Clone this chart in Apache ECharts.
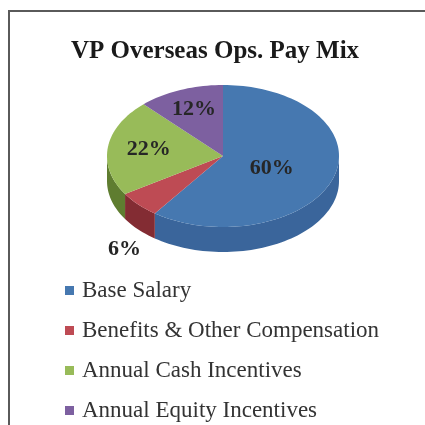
<!DOCTYPE html>
<html>
<head>
<meta charset="utf-8">
<style>
  html, body { margin: 0; padding: 0; background: #fff; }
  #chart { width: 425px; height: 425px; }
</style>
<script src="https://cdn.jsdelivr.net/npm/echarts@6/dist/echarts.min.js"></script>
</head>
<body>
<div id="chart"></div>
<script>
const categories = ['Base Salary', 'Benefits & Other Compensation', 'Annual Cash Incentives', 'Annual Equity Incentives'];
const values = [60, 6, 22, 12];
const topColors = ['#4678b0', '#be4b54', '#98bb59', '#7d60a0'];
const sideColors = ['#3a659b', '#832c33', '#5f7d30', '#5a4474'];
// label position as a fraction of the ellipse radii from the centre
const labelAnchors = [[0.42, 0.17], [-0.85, 1.31], [-0.64, -0.09], [-0.25, -0.66]];

// the pie is tilted, so it is an ellipse with a wall below it
const cx = 223, cy = 156, rx = 116, ry = 71, depth = 25;
const total = values.reduce((a, b) => a + b, 0);

function point(deg, drop) {
  const t = deg * Math.PI / 180;
  return [cx + rx * Math.sin(t), cy - ry * Math.cos(t) + (drop || 0)];
}

function arc(from, to, drop) {
  const pts = [];
  const n = Math.max(2, Math.ceil((to - from) / 2));
  for (let i = 0; i <= n; i++) {
    pts.push(point(from + (to - from) * i / n, drop));
  }
  return pts;
}

function renderSlice(index) {
  const before = values.slice(0, index).reduce((a, b) => a + b, 0);
  const start = before / total * 360;
  const end = (before + values[index]) / total * 360;
  const children = [];

  // only the front half of the wall can be seen
  const wallFrom = Math.max(start, 90);
  const wallTo = Math.min(end, 270);
  if (wallFrom < wallTo) {
    const edge = arc(wallFrom, wallTo, 0);
    const lower = arc(wallFrom, wallTo, depth).reverse();
    children.push({
      type: 'polygon',
      shape: { points: edge.concat(lower) },
      style: { fill: sideColors[index] }
    });
  }

  children.push({
    type: 'polygon',
    shape: { points: [[cx, cy]].concat(arc(start, end, 0)) },
    style: { fill: topColors[index] }
  });

  children.push({
    type: 'text',
    z2: 10,
    style: {
      text: values[index] + '%',
      x: cx + labelAnchors[index][0] * rx,
      y: cy + labelAnchors[index][1] * ry,
      textAlign: 'center',
      textVerticalAlign: 'middle',
      font: 'bold 22px "Liberation Serif"',
      fill: '#262626'
    }
  });

  return { type: 'group', children: children };
}

const myChart = echarts.init(document.getElementById('chart'), null, { renderer: 'canvas' });

myChart.setOption({
  animation: false,
  title: {
    text: 'VP Overseas Ops. Pay Mix',
    left: 210,
    top: 34,
    textAlign: 'center',
    textStyle: { fontFamily: 'Liberation Serif', fontWeight: 'bold', fontSize: 25, color: '#1a1a1a' }
  },
  legend: {
    orient: 'vertical',
    left: 65,
    top: 279,
    padding: 0,
    itemWidth: 9,
    itemHeight: 9,
    itemGap: 17,
    icon: 'rect',
    selectedMode: false,
    textStyle: { fontFamily: 'Liberation Serif', fontSize: 23, color: '#333', padding: [0, 0, 0, 3] },
    data: categories
  },
  graphic: [{
    type: 'polyline',
    silent: true,
    shape: { points: [[9, 425], [9, 11], [425, 11]] },
    style: { stroke: '#5a5a5a', lineWidth: 2, fill: null }
  }],
  series: categories.map((name, i) => ({
    type: 'custom',
    name: name,
    coordinateSystem: 'none',
    silent: true,
    itemStyle: { color: topColors[i] },
    data: [values[i]],
    renderItem: () => renderSlice(i)
  }))
});
</script>
</body>
</html>
